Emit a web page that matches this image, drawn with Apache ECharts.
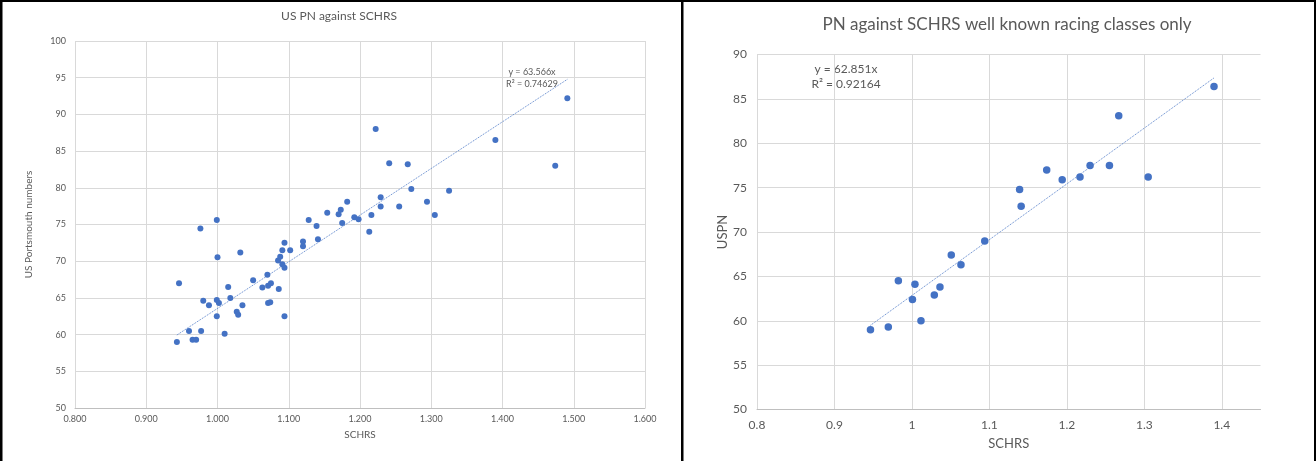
<!DOCTYPE html>
<html>
<head>
<meta charset="utf-8">
<script src="https://cdn.jsdelivr.net/npm/echarts@6/dist/echarts.min.js"></script>
<style>
html,body{margin:0;padding:0;background:#fff;}
#chart{width:1316px;height:461px;}
</style>
</head>
<body>
<div id="chart"></div>
<script>
// ---- Left chart data: US PN against SCHRS ----
const leftTitle = "US PN against SCHRS";
const leftXName = "SCHRS";
const leftYName = "US Portsmouth numbers";
const leftSchrs = [0.943,0.946,0.960,0.965,0.970,0.976,0.977,0.980,0.988,0.999,1.000,0.999,0.999,1.002,1.010,1.015,1.018,1.027,1.029,1.032,1.035,1.050,1.063,1.070,1.071,1.071,1.074,1.075,1.085,1.088,1.086,1.091,1.091,1.094,1.094,1.094,1.102,1.120,1.120,1.128,1.139,1.141,1.154,1.170,1.173,1.175,1.182,1.192,1.198,1.213,1.216,1.222,1.229,1.229,1.241,1.255,1.267,1.272,1.294,1.305,1.325,1.390,1.474,1.491];
const leftPn    = [59.0,67.0,60.5,59.3,59.3,74.45,60.5,64.6,64.0,75.6,70.55,64.7,62.5,64.3,60.1,66.5,65.0,63.1,62.7,71.2,64.0,67.4,66.4,68.15,66.65,64.3,64.4,67.0,70.1,70.6,66.2,71.5,69.6,69.1,72.5,62.5,71.5,72.7,72.05,75.6,74.8,73.0,76.6,76.4,77.0,75.2,78.1,76.0,75.7,74.0,76.3,88.0,78.7,77.45,83.35,77.45,83.2,79.85,78.1,76.3,79.6,86.5,83.0,92.2];
const leftSlope = 63.566;
const leftR2 = "0.74629";

// ---- Right chart data: well known racing classes only ----
const rightTitle = "PN against SCHRS well known racing classes only";
const rightXName = "SCHRS";
const rightYName = "USPN";
const rightSchrs = [0.9465,0.9695,0.9825,1.0007,1.0039,1.0117,1.0289,1.0362,1.0508,1.0633,1.094,1.139,1.141,1.174,1.194,1.217,1.230,1.255,1.267,1.305,1.390];
const rightPn    = [59.0,59.3,64.5,62.4,64.1,60.0,62.9,63.8,67.4,66.3,69.0,74.8,72.9,77.0,75.9,76.2,77.5,77.5,83.1,76.2,86.4];
const rightSlope = 62.851;
const rightR2 = "0.92164";

// ---- Axis tick settings ----
const leftXTicks = {min:0.8, max:1.6, interval:0.1};
const leftYTicks = {min:50, max:100, interval:5};
const rightXTicks = {min:0.8, max:1.45, interval:0.1};
const rightYTicks = {min:50, max:90, interval:5};

function zip(xs, ys){ return xs.map((x,i)=>[x, ys[i]]); }
function trend(xs, slope){
  const mn = Math.min(...xs), mx = Math.max(...xs);
  return [[mn, slope*mn],[mx, slope*mx]];
}

const FONT = 'Lato';
const TXT = '#595959';
const GRID = '#D9D9D9';
const BLUE = '#4472C4';
const TREND = '#5B84CC';

const chart = echarts.init(document.getElementById('chart'), null, {renderer:'canvas'});

function xAxisCfg(t, gi, name, fs, labelMargin, nameGap, fmt){
  return {
    type:'value', gridIndex:gi, min:t.min, max:t.max, interval:t.interval,
    name:name, nameLocation:'middle', nameGap:nameGap,
    nameTextStyle:{color:TXT, fontFamily:FONT, fontSize:fs+1},
    axisLine:{show:true, onZero:false, lineStyle:{color:'#BFBFBF', width:1}},
    axisTick:{show:false},
    axisLabel:{color:TXT, fontFamily:FONT, fontSize:fs, margin:labelMargin, formatter:fmt, showMaxLabel: fmt ? true : false},
    splitLine:{show:true, showMaxLine: gi===0, lineStyle:{color:GRID, width:1}}
  };
}
function yAxisCfg(t, gi, name, fs, labelMargin, nameGap){
  return {
    type:'value', gridIndex:gi, min:t.min, max:t.max, interval:t.interval,
    name:name, nameLocation:'middle', nameGap:nameGap, nameRotate:90,
    nameTextStyle:{color:TXT, fontFamily:FONT, fontSize:fs+1},
    axisLine:{show:false}, axisTick:{show:false},
    axisLabel:{color:TXT, fontFamily:FONT, fontSize:fs, margin:labelMargin},
    splitLine:{show:true, lineStyle:{color:GRID, width:1}}
  };
}

const option = {
  animation:false,
  backgroundColor:'#ffffff',
  grid:[
    {left:75, top:41, width:570, height:367},
    {left:757, top:54.5, width:503.5, height:355}
  ],
  xAxis:[
    xAxisCfg(leftXTicks, 0, leftXName, 9, 7, 22, v => v.toFixed(3)),
    xAxisCfg(rightXTicks, 1, rightXName, 12, 10, 28, null)
  ],
  yAxis:[
    yAxisCfg(leftYTicks, 0, leftYName, 9, 9, 41),
    yAxisCfg(rightYTicks, 1, rightYName, 12, 10, 27)
  ],
  series:[
    {type:'line', xAxisIndex:0, yAxisIndex:0, data:trend(leftSchrs, leftSlope), symbol:'none',
     lineStyle:{type:'dotted', width:1, color:TREND}, z:1},
    {type:'scatter', xAxisIndex:0, yAxisIndex:0, data:zip(leftSchrs, leftPn), symbolSize:6,
     itemStyle:{color:BLUE, opacity:1}, z:2},
    {type:'line', xAxisIndex:1, yAxisIndex:1, data:trend(rightSchrs, rightSlope), symbol:'none',
     lineStyle:{type:'dotted', width:1, color:TREND}, z:1},
    {type:'scatter', xAxisIndex:1, yAxisIndex:1, data:zip(rightSchrs, rightPn), symbolSize:7.5,
     itemStyle:{color:BLUE, opacity:1}, z:2}
  ],
  graphic:[
    {type:'text', x:339, y:16, style:{text:leftTitle, fill:TXT, font:'12px '+FONT, textAlign:'center', textVerticalAlign:'middle'}},
    {type:'text', x:1007, y:25, style:{text:rightTitle, fill:TXT, font:'17px '+FONT, textAlign:'center', textVerticalAlign:'middle'}},
    {type:'text', x:532, y:72, style:{text:'y = ' + leftSlope + 'x', fill:TXT, font:'9px '+FONT, textAlign:'center', textVerticalAlign:'middle'}},
    {type:'text', x:532, y:84, style:{text:'R\u00B2 = ' + leftR2, fill:TXT, font:'9px '+FONT, textAlign:'center', textVerticalAlign:'middle'}},
    {type:'text', x:846, y:69, style:{text:'y = ' + rightSlope + 'x', fill:TXT, font:'12px '+FONT, textAlign:'center', textVerticalAlign:'middle'}},
    {type:'text', x:846, y:84, style:{text:'R\u00B2 = ' + rightR2, fill:TXT, font:'12px '+FONT, textAlign:'center', textVerticalAlign:'middle'}},
    {type:'rect', shape:{x:0, y:0, width:1316, height:2}, style:{fill:'#000'}, z:100},
    {type:'rect', shape:{x:0, y:0, width:2.5, height:461}, style:{fill:'#000'}, z:100},
    {type:'rect', shape:{x:681, y:0, width:2.5, height:461}, style:{fill:'#000'}, z:100},
    {type:'rect', shape:{x:1314, y:0, width:2, height:461}, style:{fill:'#000'}, z:100}
  ]
};
chart.setOption(option);
</script>
</body>
</html>
